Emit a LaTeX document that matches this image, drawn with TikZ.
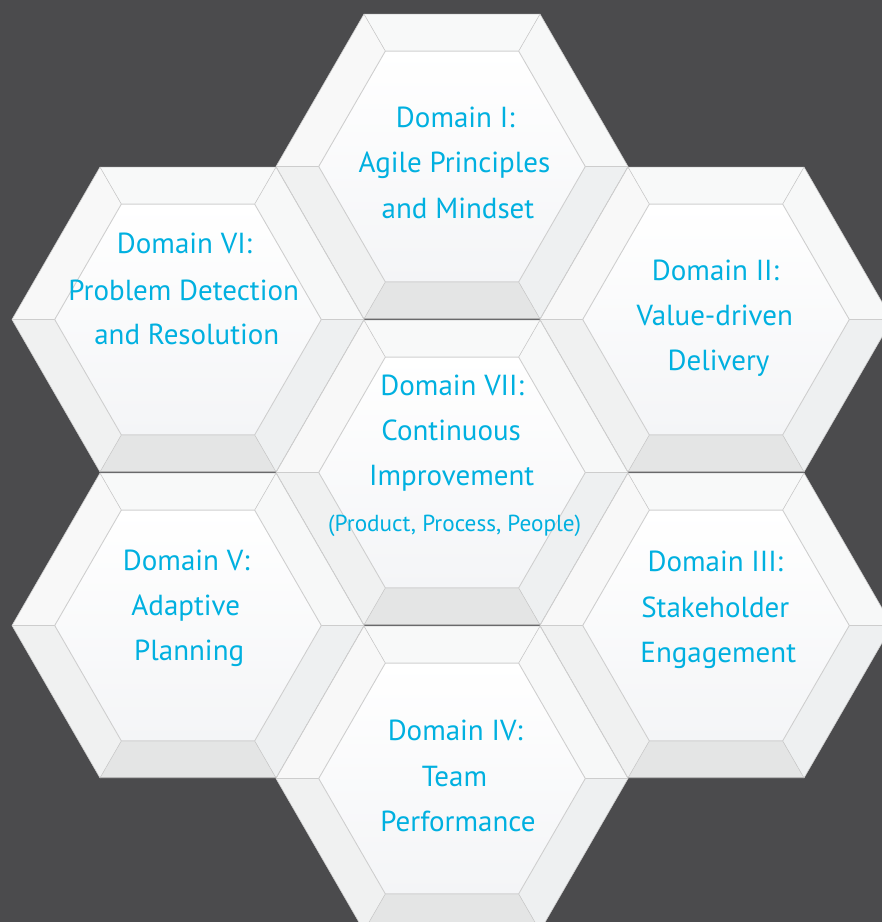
\documentclass[tikz,border=0pt]{standalone}
\usepackage{fontspec}
\setmainfont{PT Sans}
\definecolor{bg}{HTML}{4B4B4D}
\definecolor{txt}{HTML}{00B0E0}
\definecolor{ftop}{HTML}{F8F9F9}
\definecolor{fur}{HTML}{F7F8F8}
\definecolor{flr}{HTML}{EEF0F1}
\definecolor{fbot}{HTML}{E4E5E5}
\definecolor{fll}{HTML}{F0F1F1}
\definecolor{ful}{HTML}{F8F8F8}
\definecolor{edgegray}{HTML}{CDCDCD}
\definecolor{inedge}{HTML}{D0D0D0}
\definecolor{botedge}{HTML}{B5B5B5}
\definecolor{inbot}{HTML}{F4F5F7}
\tikzset{
  domtext/.style={text=txt, font=\fontsize{29}{34}\selectfont, anchor=base, inner sep=0pt},
  subtext/.style={text=txt, font=\fontsize{23.2}{28}\selectfont, anchor=base, inner sep=0pt},
  edgeline/.style={draw=edgegray, line width=0.6pt},
  inline/.style={draw=inedge, line width=0.9pt},
  botline/.style={draw=botedge, line width=0.9pt},
}
\newcommand{\hexcell}[2]{%
  \begin{scope}[shift={(#1,#2)}]
    \coordinate (o1) at (176,0);
    \coordinate (o2) at (88,-152.4);
    \coordinate (o3) at (-88,-152.4);
    \coordinate (o4) at (-176,0);
    \coordinate (o5) at (-88,152.4);
    \coordinate (o6) at (88,152.4);
    \coordinate (i1) at (133.3,0);
    \coordinate (i2) at (66.65,-115.4);
    \coordinate (i3) at (-66.65,-115.4);
    \coordinate (i4) at (-133.3,0);
    \coordinate (i5) at (-66.65,115.4);
    \coordinate (i6) at (66.65,115.4);
    \fill[ftop] (o3)--(o2)--(i2)--(i3)--cycle;
    \fill[fur]  (o2)--(o1)--(i1)--(i2)--cycle;
    \fill[flr]  (o1)--(o6)--(i6)--(i1)--cycle;
    \fill[fbot] (o6)--(o5)--(i5)--(i6)--cycle;
    \fill[fll]  (o5)--(o4)--(i4)--(i5)--cycle;
    \fill[ful]  (o4)--(o3)--(i3)--(i4)--cycle;
    \shade[top color=white, bottom color=inbot] (i1)--(i2)--(i3)--(i4)--(i5)--(i6)--cycle;
    \draw[edgeline] (o1)--(i1) (o2)--(i2) (o3)--(i3) (o4)--(i4) (o5)--(i5) (o6)--(i6);
    \draw[edgeline] (o1)--(o2)--(o3)--(o4)--(o5)--(o6)--cycle;
    \draw[inline] (i1)--(i2)--(i3)--(i4)--(i5)--(i6)--cycle;
    \draw[botline] (o5)--(o6);
  \end{scope}}
\begin{document}
\begin{tikzpicture}[x=1pt,y=-1pt]
  \useasboundingbox (0,0) rectangle (882,922);
  \fill[bg] (0,0) rectangle (882,922);
  \clip (0,0) rectangle (882,922);
  % hexagon cells
  \hexcell{452}{166.5}
  \hexcell{188}{319.5}
  \hexcell{716}{319.5}
  \hexcell{452}{472.5}
  \hexcell{188}{625.5}
  \hexcell{716}{625.5}
  \hexcell{452}{778.5}
  % Domain I
  \node[domtext] (d1a) at (455.3,127.3) {Domain I:};
  \node[domtext] (d1b) at (454.5,172.7) {Agile Principles};
  \node[domtext] (d1c) at (458,218.3) {and Mindset};
  % Domain VI
  \node[domtext] (d6a) at (184.5,253.3) {Domain VI:};
  \node[domtext] (d6b) at (183.7,300) {Problem Detection};
  \node[domtext] (d6c) at (186.8,344.3) {and Resolution};
  % Domain II
  \node[domtext] (d2a) at (715.5,280.7) {Domain II:};
  \node[domtext] (d2b) at (714.8,325.7) {Value-driven};
  \node[domtext] (d2c) at (718.5,370.7) {Delivery};
  % Domain VII
  \node[domtext] (d7a) at (452.2,395) {Domain VII:};
  \node[domtext] (d7b) at (451.2,440.7) {Continuous};
  \node[domtext] (d7c) at (451.7,485.3) {Improvement};
  \node[subtext] (d7d) at (454.7,531) {(Product, Process, People)};
  % Domain V
  \node[domtext] (d5a) at (186.3,570) {Domain V:};
  \node[domtext] (d5b) at (185.8,615) {Adaptive};
  \node[domtext] (d5c) at (189.2,660) {Planning};
  % Domain III
  \node[domtext] (d3a) at (715.3,571.7) {Domain III:};
  \node[domtext] (d3b) at (715.3,617.3) {Stakeholder};
  \node[domtext] (d3c) at (718.3,662.3) {Engagement};
  % Domain IV
  \node[domtext] (d4a) at (455.3,740) {Domain IV:};
  \node[domtext] (d4b) at (454.5,786.7) {Team};
  \node[domtext] (d4c) at (458,831.7) {Performance};
\end{tikzpicture}
\end{document}
